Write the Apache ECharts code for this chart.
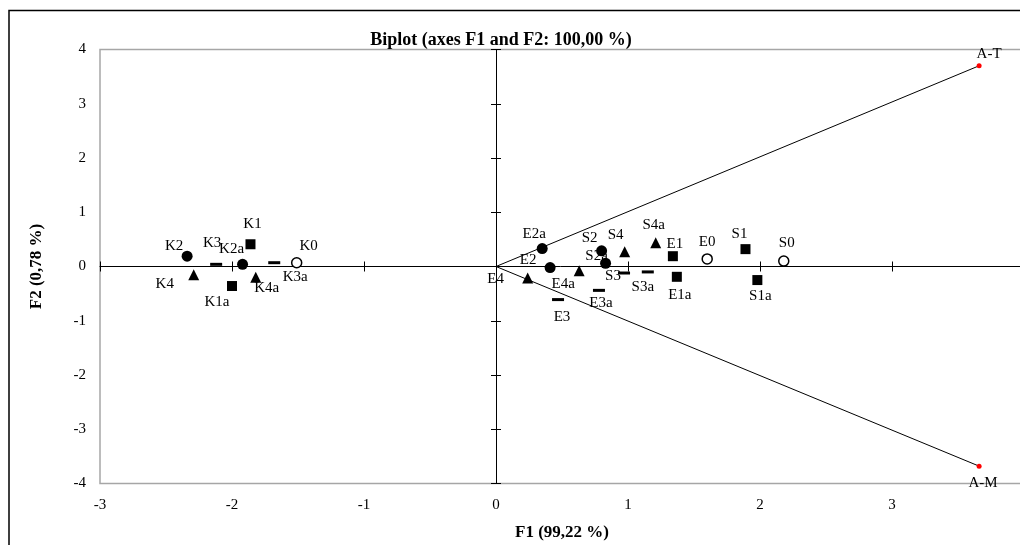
<!DOCTYPE html>
<html><head><meta charset="utf-8">
<script src="https://cdn.jsdelivr.net/npm/echarts@6/dist/echarts.min.js"></script>
<style>html,body{margin:0;padding:0;background:#fff;}#c{width:1020px;height:545px;}</style>
</head><body><div id="c"></div>
<script>
// ---- data ----
const openNames = ['K0', 'E0', 'S0'];
const openX = [-1.51, 1.60, 2.18];
const openY = [0.07, 0.14, 0.10];

const squareNames = ['K1', 'K1a', 'E1', 'E1a', 'S1', 'S1a'];
const squareX = [-1.86, -2.00, 1.34, 1.37, 1.89, 1.98];
const squareY = [0.41, -0.36, 0.19, -0.19, 0.32, -0.25];

const circleNames = ['K2', 'K2a', 'E2', 'E2a', 'S2', 'S2a'];
const circleX = [-2.34, -1.92, 0.41, 0.35, 0.80, 0.83];
const circleY = [0.19, 0.04, -0.02, 0.33, 0.29, 0.06];

const dashNames = ['K3', 'K3a', 'E3', 'E3a', 'S3', 'S3a'];
const dashX = [-2.12, -1.68, 0.47, 0.78, 0.97, 1.15];
const dashY = [0.04, 0.07, -0.61, -0.44, -0.12, -0.10];

const triNames = ['K4', 'K4a', 'E4', 'E4a', 'S4', 'S4a'];
const triX = [-2.29, -1.82, 0.24, 0.63, 0.975, 1.21];
const triY = [-0.15, -0.20, -0.21, -0.08, 0.27, 0.44];

const varNames = ['A-T', 'A-M'];
const varX = [3.66, 3.66];
const varY = [3.70, -3.68];

const titleText = 'Biplot (axes F1 and F2: 100,00 %)';
const xName = 'F1 (99,22 %)';
const yName = 'F2 (0,78 %)';

// ---- label placement (style) ----
const labelOffset = {
  'K0': [12, -17], 'K1': [2, -20], 'K2': [-13, -10], 'K3': [-4, -21], 'K2a': [-11, -15],
  'K3a': [21, 14], 'K4': [-29, 9], 'K1a': [-15, 16], 'K4a': [11, 11],
  'E4': [-32, 1], 'E2a': [-8, -15], 'E2': [-22, -8], 'E4a': [-16, 13], 'E3': [4, 17], 'E3a': [2, 13],
  'S2': [-12, -13], 'S2a': [-9, -7], 'S3': [-11, 3], 'S3a': [-5, 15], 'S4': [-9, -17], 'S4a': [-2, -18],
  'E1': [2, -12], 'E1a': [3, 18], 'E0': [0, -17], 'S1': [-6, -15], 'S1a': [3, 16], 'S0': [3, -18],
  'A-T': [10, -12], 'A-M': [4, 17]
};

const FONT = 'Liberation Serif';
function pts(names, xs, ys) {
  return names.map((n, i) => ({
    name: n,
    value: [xs[i], ys[i]],
    label: { offset: labelOffset[n] || [0, 0] }
  }));
}
const baseLabel = {
  show: true, position: 'inside', formatter: '{b}', color: '#000',
  fontFamily: FONT, fontSize: 15, align: 'center', verticalAlign: 'middle'
};
function scatter(name, data, symbol, size, itemStyle) {
  return {
    name, type: 'scatter', data, symbol, symbolSize: size,
    itemStyle: Object.assign({ opacity: 1 }, itemStyle), label: baseLabel,
    emphasis: { disabled: true }, z: 5
  };
}

const axisCommon = { type: 'value', min: -3, max: 4, interval: 1, splitLine: { show: false } };
const yCommon = { type: 'value', min: -4, max: 4, interval: 1, splitLine: { show: false } };
const tickLabel = { color: '#000', fontFamily: FONT, fontSize: 15 };

const series = [
  scatter('0', pts(openNames, openX, openY), 'circle', 10, { color: '#fff', borderColor: '#000', borderWidth: 1.5 }),
  scatter('1', pts(squareNames, squareX, squareY), 'rect', 10, { color: '#000' }),
  scatter('2', pts(circleNames, circleX, circleY), 'circle', 11, { color: '#000' }),
  scatter('3', pts(dashNames, dashX, dashY), 'rect', [12, 3], { color: '#000' }),
  scatter('4', pts(triNames, triX, triY), 'triangle', 11, { color: '#000' }),
];
varNames.forEach((n, i) => {
  series.push({
    type: 'line', data: [[0, 0], [varX[i], varY[i]]], showSymbol: false, symbol: 'none',
    lineStyle: { color: '#000', width: 1 }, silent: true, z: 3
  });
});
series.push(scatter('vars', pts(varNames, varX, varY), 'circle', 5, { color: '#ff0000' }));

const option = {
  backgroundColor: '#fff',
  animation: false,
  title: {
    text: titleText, left: 496, top: 26, textAlign: 'center',
    textStyle: { fontFamily: FONT, fontSize: 18, fontWeight: 'bold', color: '#000' }
  },
  graphic: [{
    type: 'rect', shape: { x: 9, y: 10.5, width: 1200, height: 800 },
    style: { fill: 'none', stroke: '#000', lineWidth: 1.5 }, silent: true
  }],
  grid: {
    left: 100, right: -4, top: 49.5, bottom: 61.5, show: true,
    borderColor: '#a6a6a6', borderWidth: 1.5, containLabel: false, outerBoundsMode: 'none'
  },
  xAxis: [
    Object.assign({}, axisCommon, {
      position: 'bottom', axisLine: { show: false, onZero: false }, axisTick: { show: false },
      axisLabel: Object.assign({ margin: 14 }, tickLabel),
      name: xName, nameLocation: 'middle', nameGap: 41,
      nameTextStyle: { fontFamily: FONT, fontSize: 17, fontWeight: 'bold', color: '#000' }
    }),
    Object.assign({}, axisCommon, {
      position: 'bottom', axisLine: { show: true, onZero: true, onZeroAxisIndex: 0, lineStyle: { color: '#000', width: 1 } },
      axisTick: { show: true, inside: true, length: 5, lineStyle: { color: '#000' } }, axisLabel: { show: false }
    }),
    Object.assign({}, axisCommon, {
      position: 'bottom', axisLine: { show: false, onZero: true, onZeroAxisIndex: 0 },
      axisTick: { show: true, inside: false, length: 5, lineStyle: { color: '#000' } }, axisLabel: { show: false }
    })
  ],
  yAxis: [
    Object.assign({}, yCommon, {
      position: 'left', axisLine: { show: false, onZero: false }, axisTick: { show: false },
      axisLabel: Object.assign({ margin: 14 }, tickLabel),
      name: yName, nameLocation: 'middle', nameGap: 55, nameRotate: 90,
      nameTextStyle: { fontFamily: FONT, fontSize: 17, fontWeight: 'bold', color: '#000' }
    }),
    Object.assign({}, yCommon, {
      position: 'left', axisLine: { show: true, onZero: true, onZeroAxisIndex: 0, lineStyle: { color: '#000', width: 1 } },
      axisTick: { show: true, inside: true, length: 5, lineStyle: { color: '#000' } }, axisLabel: { show: false }
    }),
    Object.assign({}, yCommon, {
      position: 'left', axisLine: { show: false, onZero: true, onZeroAxisIndex: 0 },
      axisTick: { show: true, inside: false, length: 5, lineStyle: { color: '#000' } }, axisLabel: { show: false }
    })
  ],
  series
};
const chart = echarts.init(document.getElementById('c'), null, { renderer: 'canvas' });
chart.setOption(option);
</script>
</body></html>
